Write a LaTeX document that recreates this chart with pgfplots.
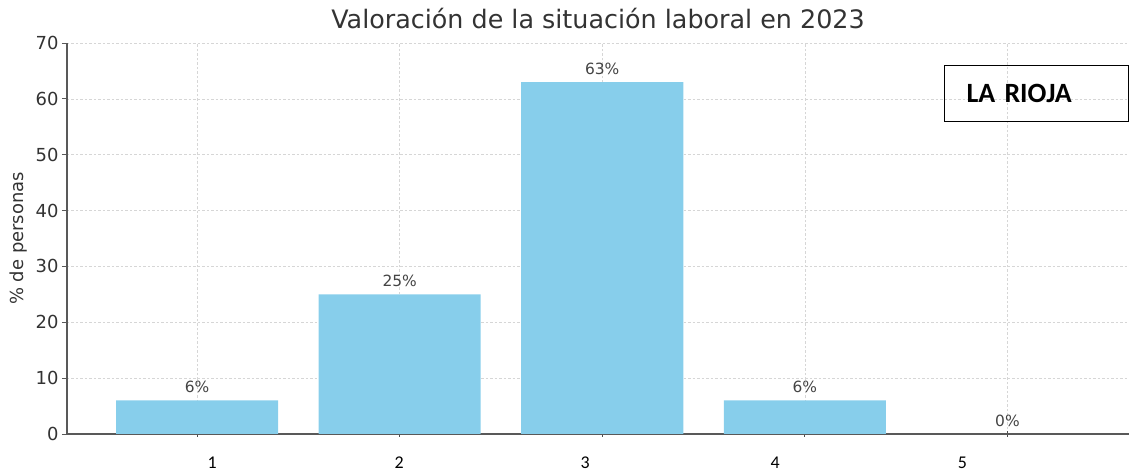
\documentclass[border=0pt]{standalone}
\usepackage{pgfplots}
\pgfplotsset{compat=1.18}
\usepackage{fontspec}
\setmainfont{DejaVu Sans}
\newfontfamily\carlito{Carlito}
\definecolor{skyb}{HTML}{87CEEB}
\definecolor{txt}{HTML}{333333}
\definecolor{vtxt}{HTML}{444444}
\begin{document}
\begin{tikzpicture}
\begin{axis}[
  at={(0,0)}, anchor=south west,
  scale only axis, width=1062bp, height=391bp,
  xmin=0.358, xmax=5.6, ymin=0, ymax=70,
  axis lines*=left,
  axis line style={draw=black!65, line width=1.6bp},
  ytick={0,10,...,70},
  xtick={1,2,3,4,5}, xticklabels={},
  extra x ticks={1.074,1.998,2.916,3.854,4.778},
  extra x tick labels={1,2,3,4,5},
  extra x tick style={major tick length=0pt, grid=none,
     tick label style={font=\carlito\fontsize{18}{18}\selectfont, color=black, yshift=-19bp}},
  tick align=outside,
  major tick length=5bp,
  xtick style={draw=black!70, line width=1bp, yshift=2.5bp},
  ytick style={draw=black!65, line width=0.8bp},
  yticklabel style={font=\fontsize{18}{18}\selectfont, color=txt},
  /pgf/number format/assume math mode=true,
  grid=major,
  major grid style={draw=black!16, dash pattern=on 2.5bp off 2bp, line width=0.6bp},
  ylabel={\% de personas},
  ylabel style={at={(axis description cs:-0.046,0.5)}, anchor=center, font=\fontsize{18}{18}\selectfont, color=txt},
  title={Valoración de la situación laboral en 2023},
  title style={at={(axis description cs:0.5,1)}, anchor=base, yshift=9bp, font=\fontsize{25.5}{25.5}\selectfont, color=txt},
  ybar, bar width=0.8,
  nodes near coords={\pgfmathprintnumber{\pgfplotspointmeta}\%},
  nodes near coords style={font=\fontsize{15.5}{15.5}\selectfont, color=vtxt, anchor=south, yshift=4bp},
]
\addplot[fill=skyb, draw=none] coordinates {(1,6) (2,25) (3,63) (4,6) (5,0)};
\node[draw=black, line width=1bp, anchor=north west, minimum width=184bp, minimum height=56bp,
      inner xsep=22bp, text width=140bp, align=left, font=\carlito\bfseries\fontsize{28}{28}\selectfont]
  at (rel axis cs:0.8258,0.9437) {LA RIOJA};
\end{axis}
\pgfresetboundingbox
\path[use as bounding box] (-67bp,-39bp) rectangle (1062bp,434bp);
\end{tikzpicture}
\end{document}
